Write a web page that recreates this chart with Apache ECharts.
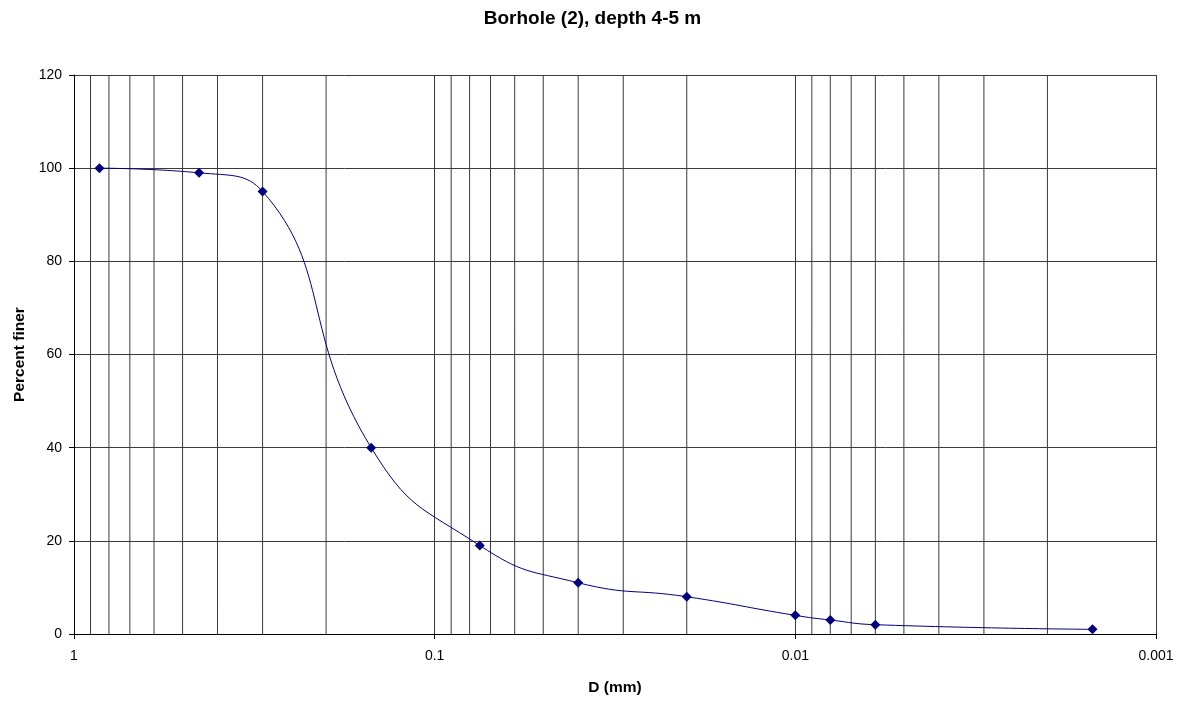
<!DOCTYPE html>
<html>
<head>
<meta charset="utf-8">
<title>Borhole (2)</title>
<script src="https://cdn.jsdelivr.net/npm/echarts@6/dist/echarts.min.js"></script>
<style>
  html, body { margin: 0; padding: 0; background: #fff; }
  #chart { width: 1185px; height: 701px; }
</style>
</head>
<body>
<div id="chart"></div>
<script>
// grain size (mm) and percent finer
var diameters = [0.85, 0.45, 0.3, 0.15, 0.075, 0.04, 0.02, 0.01, 0.008, 0.006, 0.0015]
var percentFiner = [100, 99, 95, 40, 19, 11, 8, 4, 3, 2, 1]
var yTicks = [0, 20, 40, 60, 80, 100, 120]
var xTicks = [1, 0.1, 0.01, 0.001]

// minor grid lines at 0.9 ... 0.2 of each decade
var minorGrid = []
xTicks.slice(0, 3).forEach(function (d) {
  for (var k = 9; k >= 2; k--) minorGrid.push(+(k * d / 10).toPrecision(2))
})

var chartDom = document.getElementById('chart')
var myChart = echarts.init(chartDom)

var gridColor = '#3a3a3a'
var yMin = yTicks[0]
var yMax = yTicks[yTicks.length - 1]

// each minor grid line is a tiny two-point line series on the log axis
var gridSeries = minorGrid.map(function (v) {
  return {
    type: 'line',
    data: [[v, yMin], [v, yMax]],
    symbol: 'none',
    silent: true,
    lineStyle: { color: gridColor, width: 1 },
    z: 1,
    tooltip: { show: false }
  }
})

var option = {
  backgroundColor: '#fff',
  animation: false,
  textStyle: { fontFamily: 'Liberation Sans, Arial, sans-serif' },
  title: {
    text: 'Borhole (2), depth 4-5 m',
    left: 'center',
    top: 4,
    textStyle: { fontSize: 19, fontWeight: 'bold', color: '#000' }
  },
  grid: { left: 74, right: 29, top: 75, bottom: 67, outerBoundsMode: 'none' },
  xAxis: {
    type: 'log',
    logBase: 10,
    inverse: true,
    min: xTicks[xTicks.length - 1],
    max: xTicks[0],
    name: 'D (mm)',
    nameLocation: 'middle',
    nameGap: 46,
    nameTextStyle: { fontSize: 15.5, fontWeight: 'bold', color: '#000' },
    axisLine: { lineStyle: { color: '#000', width: 1 } },
    axisTick: { show: true, inside: false, length: 5, lineStyle: { color: '#000' } },
    axisLabel: {
      fontSize: 14, color: '#000', margin: 15,
      formatter: function (v) { return String(+(+v).toPrecision(1)) }
    },
    splitLine: { show: true, lineStyle: { color: gridColor, width: 1 } }
  },
  yAxis: {
    type: 'value',
    min: yMin,
    max: yMax,
    interval: 20,
    name: 'Percent finer',
    nameLocation: 'middle',
    nameGap: 46,
    nameTextStyle: { fontSize: 15.5, fontWeight: 'bold', color: '#000' },
    axisLine: { show: true, lineStyle: { color: '#000', width: 1 } },
    axisTick: { show: true, length: 5, lineStyle: { color: '#000' } },
    axisLabel: { fontSize: 14, color: '#000', margin: 12 },
    splitLine: { show: true, lineStyle: { color: gridColor, width: 1 } }
  },
  series: gridSeries.concat([
    {
      name: 'Percent finer',
      type: 'line',
      data: diameters.map(function (d, i) { return [d, percentFiner[i]] }),
      smooth: 0.5,
      symbol: 'diamond',
      symbolSize: 10,
      itemStyle: { color: '#000080' },
      lineStyle: { color: '#000080', width: 1 },
      z: 5
    }
  ])
}
myChart.setOption(option)
</script>
</body>
</html>
